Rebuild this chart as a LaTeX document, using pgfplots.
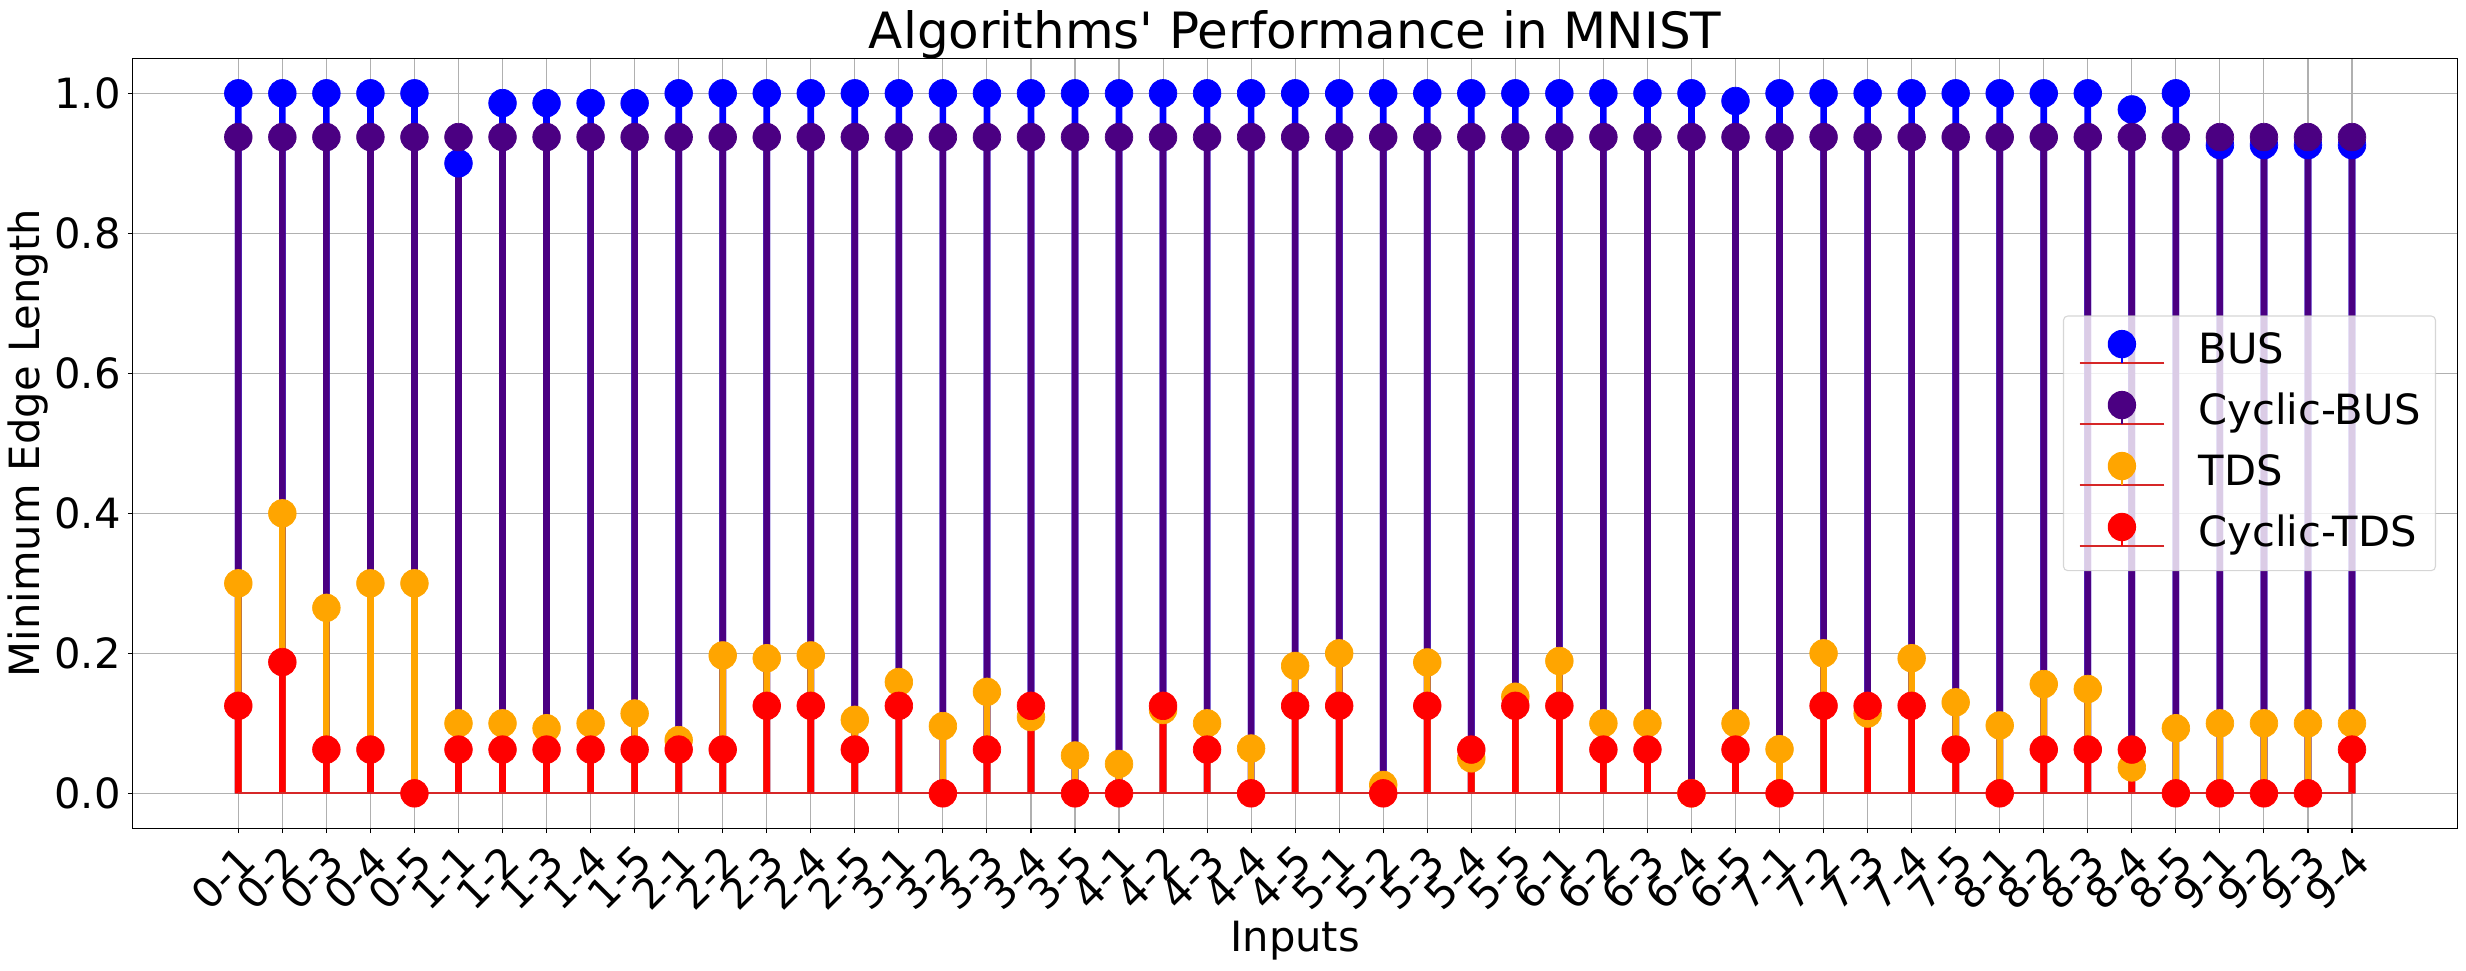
\documentclass[border=0pt]{standalone}
\usepackage{fontspec}
\setmainfont{DejaVu Sans}[Ligatures=TeXOff]
\usepackage{pgfplots}
\usepackage{pgfplotstable}
\pgfplotsset{compat=1.18}
\definecolor{cBUS}{HTML}{0000FF}
\definecolor{cCBUS}{HTML}{4B0082}
\definecolor{cTDS}{HTML}{FFA500}
\definecolor{cCTDS}{HTML}{FF0000}
\definecolor{cBase}{HTML}{D62728}
\definecolor{gridc}{HTML}{B0B0B0}
\definecolor{legedge}{HTML}{CCCCCC}

\pgfplotstableread{
x bus cbus tds ctds
0 1.000 0.9375 0.300 0.125
1 1.000 0.9375 0.400 0.1875
2 1.000 0.9375 0.265 0.0625
3 1.000 0.9375 0.300 0.0625
4 1.000 0.9375 0.300 0.000
5 0.900 0.9375 0.100 0.0625
6 0.986 0.9375 0.100 0.0625
7 0.986 0.9375 0.093 0.0625
8 0.986 0.9375 0.100 0.0625
9 0.986 0.9375 0.114 0.0625
10 1.000 0.9375 0.076 0.0625
11 1.000 0.9375 0.197 0.0625
12 1.000 0.9375 0.193 0.125
13 1.000 0.9375 0.197 0.125
14 1.000 0.9375 0.105 0.0625
15 1.000 0.9375 0.159 0.125
16 1.000 0.9375 0.096 0.000
17 1.000 0.9375 0.145 0.0625
18 1.000 0.9375 0.109 0.125
19 1.000 0.9375 0.054 0.000
20 1.000 0.9375 0.042 0.000
21 1.000 0.9375 0.119 0.125
22 1.000 0.9375 0.100 0.0625
23 1.000 0.9375 0.064 0.000
24 1.000 0.9375 0.182 0.125
25 1.000 0.9375 0.200 0.125
26 1.000 0.9375 0.012 0.000
27 1.000 0.9375 0.187 0.125
28 1.000 0.9375 0.050 0.0625
29 1.000 0.9375 0.138 0.125
30 1.000 0.9375 0.189 0.125
31 1.000 0.9375 0.100 0.0625
32 1.000 0.9375 0.100 0.0625
33 1.000 0.9375 0.000 0.000
34 0.989 0.9375 0.100 0.0625
35 1.000 0.9375 0.063 0.000
36 1.000 0.9375 0.200 0.125
37 1.000 0.9375 0.114 0.125
38 1.000 0.9375 0.193 0.125
39 1.000 0.9375 0.130 0.0625
40 1.000 0.9375 0.097 0.000
41 1.000 0.9375 0.156 0.0625
42 1.000 0.9375 0.149 0.0625
43 0.977 0.9375 0.037 0.0625
44 1.000 0.9375 0.093 0.000
45 0.926 0.9375 0.100 0.000
46 0.926 0.9375 0.100 0.000
47 0.926 0.9375 0.100 0.000
48 0.926 0.9375 0.100 0.0625
}\datatable

\pgfplotsset{
  stemleg/.style={legend image code/.code={
    \draw[cBase, line width=1.5bp, draw opacity=1] (0bp,0bp) -- (61bp,0bp);
    \draw[#1, line width=1.5bp, draw opacity=1] (30.5bp,0bp) -- (30.5bp,13.7bp);
    \fill[#1, fill opacity=1] (30.5bp,13.7bp) circle[radius=10.2bp];
  }},
  stem/.style={ybar, bar width=4.8bp, bar shift=0pt, fill=#1, draw=none,
    mark=*, mark size=9.95bp, mark options={fill=#1, draw=#1, line width=0.5bp}, stemleg=#1},
  baseln/.style={cBase, line width=1.5bp, no marks, forget plot},
}

\begin{document}
\begin{tikzpicture}
\begin{axis}[
  scale only axis, width=1674bp, height=554.4bp,
  xmin=-2.4, xmax=50.4, ymin=-0.05, ymax=1.05,
  xtick={0,...,48},
  xticklabels={0-1,0-2,0-3,0-4,0-5,1-1,1-2,1-3,1-4,1-5,2-1,2-2,2-3,2-4,2-5,3-1,3-2,3-3,3-4,3-5,4-1,4-2,4-3,4-4,4-5,5-1,5-2,5-3,5-4,5-5,6-1,6-2,6-3,6-4,6-5,7-1,7-2,7-3,7-4,7-5,8-1,8-2,8-3,8-4,8-5,9-1,9-2,9-3,9-4},
  ytick={0,0.2,0.4,0.6,0.8,1},
  yticklabels={0.0,0.2,0.4,0.6,0.8,1.0},
  grid=major, grid style={gridc, line width=0.8bp},
  axis line style={black, line width=0.8bp},
  tick align=outside, tick pos=left, major tick length=3.5bp,
  tick style={black, line width=0.8bp},
  tick label style={font=\fontsize{30bp}{36bp}\selectfont, inner sep=0pt},
  yticklabel style={anchor=east, xshift=-4.9bp},
  xticklabel style={xshift=-1.5bp, yshift=-6.5bp, rotate=45, anchor=north east},
  every axis title/.style={at={(axis description cs:0.5,1)}, anchor=base, yshift=7.2bp, inner sep=0pt, font=\fontsize{36bp}{43bp}\selectfont},
  every axis x label/.style={at={(axis description cs:0.5,0)}, anchor=base, yshift=-88.9bp, inner sep=0pt, font=\fontsize{30bp}{36bp}\selectfont},
  every axis y label/.style={at={(axis description cs:0,0.5)}, xshift=-66.7bp, rotate=90, anchor=base, inner sep=0pt, font=\fontsize{30bp}{36bp}\selectfont},
  title={Algorithms' Performance in MNIST},
  xlabel={Inputs},
  ylabel={Minimum Edge Length},
  legend style={
    at={(axis description cs:1,0.5)}, anchor=east, xshift=-15.6bp,
    draw=legedge, line width=0.8bp, rounded corners=3bp,
    fill=white, fill opacity=0.8, draw opacity=0.8, text opacity=1,
    inner xsep=10.8bp, inner ysep=10bp,
    row sep=12.3bp, column sep=24bp,
    cells={anchor=base west},
    nodes={inner sep=0pt, text height=23.6bp, text depth=7.7bp, font=\fontsize{30bp}{36bp}\selectfont},
  },
]
\addplot[stem=cBUS] table[x=x, y=bus] {\datatable};
\addlegendentry{BUS}
\addplot[baseln] coordinates {(0,0) (48,0)};
\addplot[stem=cCBUS] table[x=x, y=cbus] {\datatable};
\addlegendentry{Cyclic-BUS}
\addplot[baseln] coordinates {(0,0) (48,0)};
\addplot[stem=cTDS] table[x=x, y=tds] {\datatable};
\addlegendentry{TDS}
\addplot[baseln] coordinates {(0,0) (48,0)};
\addplot[stem=cCTDS] table[x=x, y=ctds] {\datatable};
\addlegendentry{Cyclic-TDS}
\addplot[baseln] coordinates {(0,0) (48,0)};
\coordinate (SW) at (rel axis cs:0,0);
\coordinate (NE) at (rel axis cs:1,1);
\end{axis}
\pgfresetboundingbox
\path[use as bounding box] ([shift={(-95.5bp,-102.7bp)}]SW) rectangle ([shift={(6bp,42bp)}]NE);
\end{tikzpicture}
\end{document}
